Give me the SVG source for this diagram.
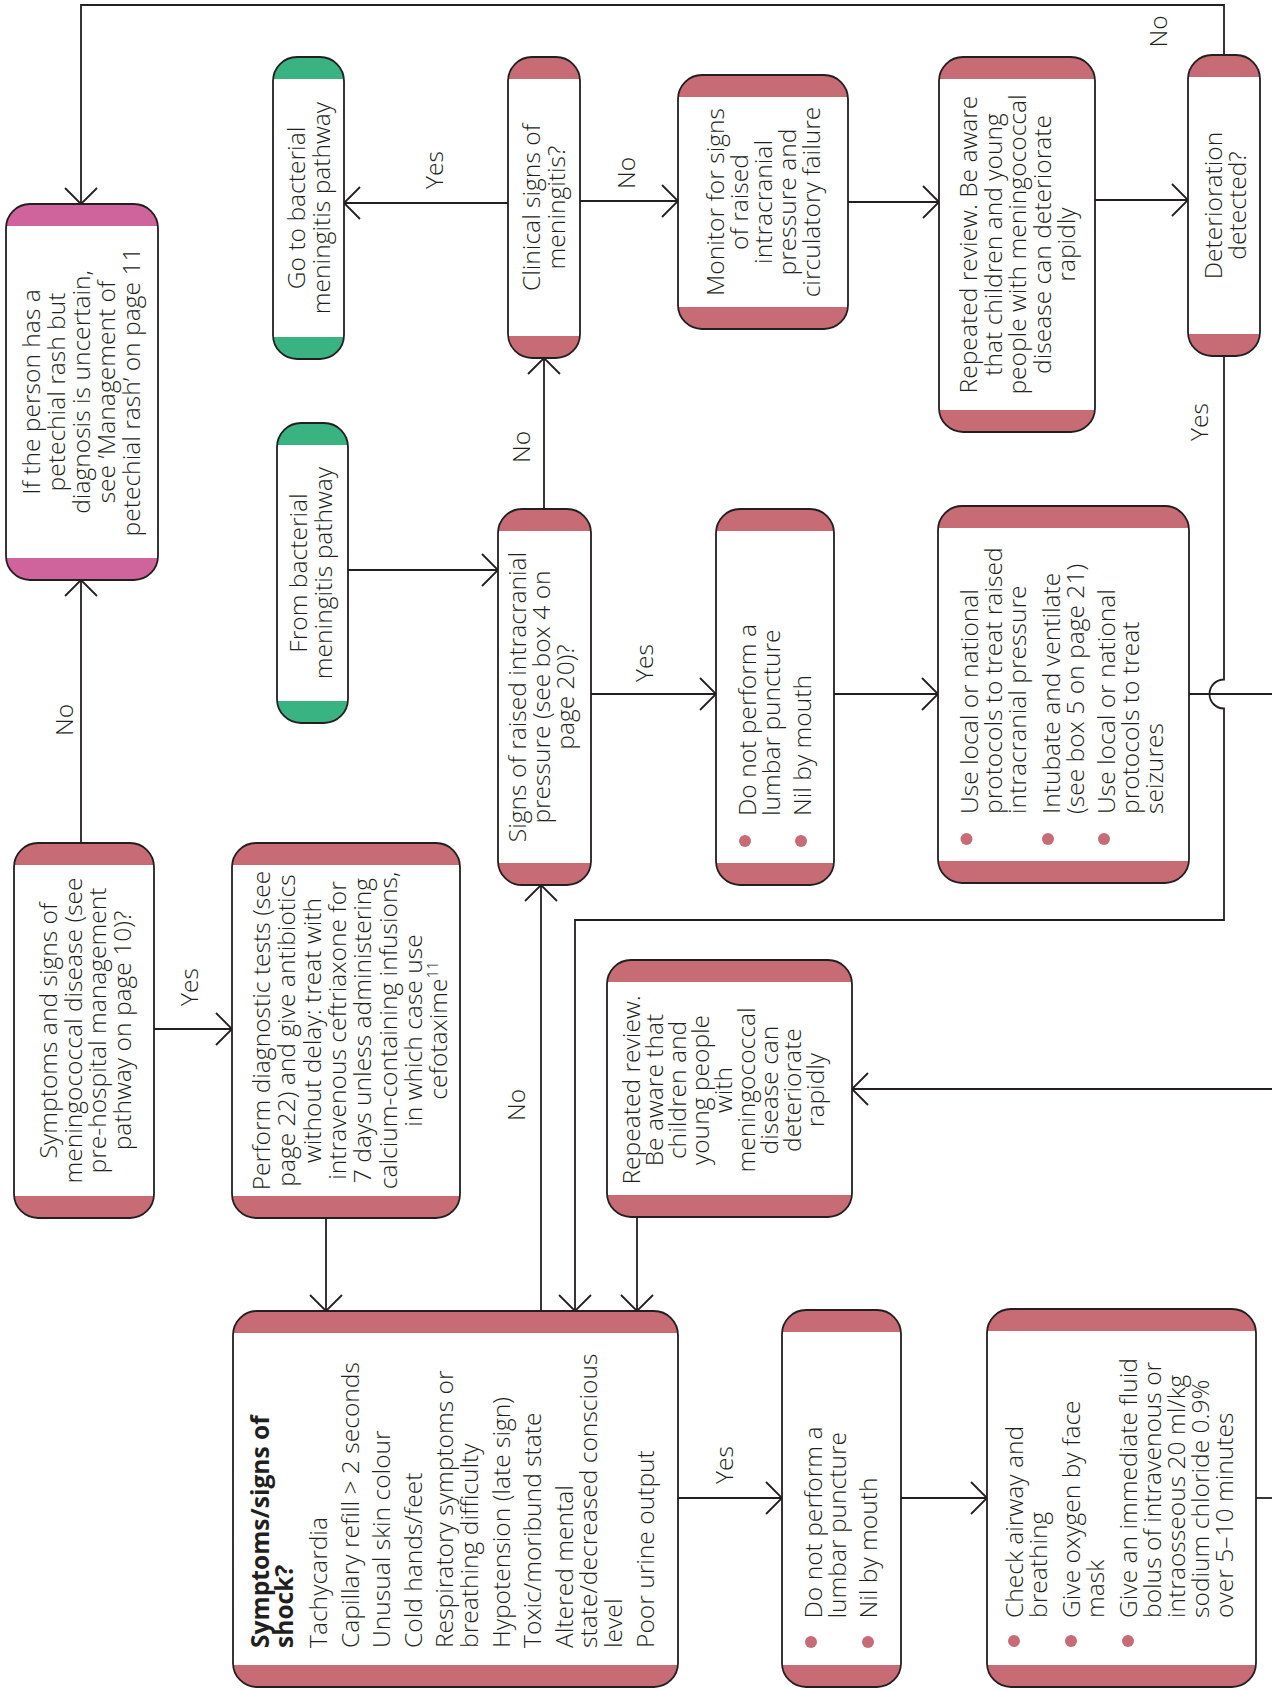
<svg xmlns="http://www.w3.org/2000/svg" width="1272" height="1690" viewBox="0 0 1272 1690">
<style>
.cr{fill:#C76C75}.cp{fill:#CF639B}.cg{fill:#3AB383}
.bd{fill:#fff}
.fr{fill:none;stroke:#231F20;stroke-width:1.8}
.t{font-family:"Open Sans","Noto Sans","Liberation Sans",sans-serif;font-size:24.6px;font-weight:300;fill:#231F20}
.c{text-anchor:middle}
.b{font-weight:700}
.dot{fill:#C76C75}
.w{fill:none;stroke:#231F20;stroke-width:1.8}
.a{marker-end:url(#ah)}
</style>
<defs>
<marker id="ah" markerWidth="20" markerHeight="36" viewBox="0 0 20 36" refX="17" refY="18" orient="auto" markerUnits="userSpaceOnUse">
<path d="M1,2 L17,18 L1,34" fill="none" stroke="#231F20" stroke-width="1.8"/>
</marker>
</defs>
<rect width="1272" height="1690" fill="#fff"/>

<g id="connectors">
<path class="w a" d="M1224,55 V5 H81 V204"/>
<path class="w a" d="M81,843 V580"/>
<path class="w a" d="M154,1029 H232"/>
<path class="w a" d="M326,1218 V1311"/>
<path class="w a" d="M541,1311 V885"/>
<path class="w a" d="M348,570 H498"/>
<path class="w a" d="M544,509 V358"/>
<path class="w a" d="M508,203 H344"/>
<path class="w a" d="M580,201 H678"/>
<path class="w a" d="M848,202 H939"/>
<path class="w a" d="M1095,200 H1188"/>
<path class="w a" d="M1224,356 V679.5 A14.5,14.5 0 0 0 1224,708.5 V920 H575 V1311"/>
<path class="w a" d="M591,694 H716"/>
<path class="w a" d="M834,694 H938"/>
<path class="w" d="M1189,694 H1272"/>
<path class="w a" d="M1272,1089 H852"/>
<path class="w a" d="M637,1217 V1311"/>
<path class="w a" d="M678,1498 H782"/>
<path class="w a" d="M901,1498 H987"/>
<path class="w" d="M1256,1498 H1272"/>
<g class="t c">
<text transform="translate(0,720) rotate(-90)" y="73">No</text>
<text transform="translate(0,987) rotate(-90)" y="198">Yes</text>
<text transform="translate(0,447) rotate(-90)" y="530">No</text>
<text transform="translate(0,170) rotate(-90)" y="443">Yes</text>
<text transform="translate(0,173) rotate(-90)" y="635">No</text>
<text transform="translate(0,31.5) rotate(-90)" y="1167">No</text>
<text transform="translate(0,422) rotate(-90)" y="1208">Yes</text>
<text transform="translate(0,663) rotate(-90)" y="653">Yes</text>
<text transform="translate(0,1105) rotate(-90)" y="524.5">No</text>
<text transform="translate(0,1465) rotate(-90)" y="733">Yes</text>
</g>
</g>

<g id="n-petechial">
<rect class="cp" x="6" y="204" width="152" height="376" rx="24"/>
<rect class="bd" x="6" y="226" width="152" height="332"/>
<rect class="fr" x="6" y="204" width="152" height="376" rx="24"/>
<g class="t c" transform="translate(0,392) rotate(-90)">
<text y="40">If the person has a</text>
<text y="65">petechial rash but</text>
<text y="90">diagnosis is uncertain,</text>
<text y="115">see ‘Management of</text>
<text y="140">petechial rash’ on page 11</text>
</g>
</g>

<g id="n-goto">
<rect class="cg" x="273" y="57" width="71" height="302" rx="24"/>
<rect class="bd" x="273" y="79" width="71" height="258"/>
<rect class="fr" x="273" y="57" width="71" height="302" rx="24"/>
<g class="t c" transform="translate(0,208) rotate(-90)">
<text y="305">Go to bacterial</text>
<text y="330">meningitis pathway</text>
</g>
</g>

<g id="n-clinical">
<rect class="cr" x="508" y="57" width="72" height="301" rx="24"/>
<rect class="bd" x="508" y="79" width="72" height="257"/>
<rect class="fr" x="508" y="57" width="72" height="301" rx="24"/>
<g class="t c" transform="translate(0,207.5) rotate(-90)">
<text y="540">Clinical signs of</text>
<text y="565">meningitis?</text>
</g>
</g>

<g id="n-monitor">
<rect class="cr" x="678" y="75" width="170" height="254" rx="24"/>
<rect class="bd" x="678" y="97" width="170" height="210"/>
<rect class="fr" x="678" y="75" width="170" height="254" rx="24"/>
<g class="t c" transform="translate(0,202) rotate(-90)">
<text y="724">Monitor for signs</text>
<text y="748">of raised</text>
<text y="772">intracranial</text>
<text y="796">pressure and</text>
<text y="820">circulatory failure</text>
</g>
</g>

<g id="n-review1">
<rect class="cr" x="939" y="57" width="156" height="375" rx="24"/>
<rect class="bd" x="939" y="79" width="156" height="331"/>
<rect class="fr" x="939" y="57" width="156" height="375" rx="24"/>
<g class="t c" transform="translate(0,244.5) rotate(-90)">
<text y="977">Repeated review. Be aware</text>
<text y="1001.5">that children and young</text>
<text y="1026">people with meningococcal</text>
<text y="1050.5">disease can deteriorate</text>
<text y="1075">rapidly</text>
</g>
</g>

<g id="n-deterioration">
<rect class="cr" x="1188" y="55" width="72" height="301" rx="24"/>
<rect class="bd" x="1188" y="77" width="72" height="257"/>
<rect class="fr" x="1188" y="55" width="72" height="301" rx="24"/>
<g class="t c" transform="translate(0,205.5) rotate(-90)">
<text y="1222">Deterioration</text>
<text y="1246">detected?</text>
</g>
</g>

<g id="n-from">
<rect class="cg" x="277" y="423" width="71" height="300" rx="24"/>
<rect class="bd" x="277" y="445" width="71" height="256"/>
<rect class="fr" x="277" y="423" width="71" height="300" rx="24"/>
<g class="t c" transform="translate(0,573) rotate(-90)">
<text y="307">From bacterial</text>
<text y="332">meningitis pathway</text>
</g>
</g>

<g id="n-signs">
<rect class="cr" x="498" y="509" width="93" height="376" rx="24"/>
<rect class="bd" x="498" y="531" width="93" height="332"/>
<rect class="fr" x="498" y="509" width="93" height="376" rx="24"/>
<g class="t c" transform="translate(0,697) rotate(-90)">
<text y="526">Signs of raised intracranial</text>
<text y="550">pressure (see box 4 on</text>
<text y="574">page 20)?</text>
</g>
</g>

<g id="n-nolp1">
<rect class="cr" x="716" y="509" width="118" height="376" rx="24"/>
<rect class="bd" x="716" y="531" width="118" height="332"/>
<rect class="fr" x="716" y="509" width="118" height="376" rx="24"/>
<circle class="dot" cx="745" cy="841" r="6"/>
<circle class="dot" cx="801" cy="841" r="6"/>
<g class="t" transform="translate(0,816) rotate(-90)">
<text y="756">Do not perform a</text>
<text y="780">lumbar puncture</text>
<text y="811">Nil by mouth</text>
</g>
</g>

<g id="n-protocols">
<rect class="cr" x="938" y="506" width="251" height="377" rx="24"/>
<rect class="bd" x="938" y="528" width="251" height="333"/>
<rect class="fr" x="938" y="506" width="251" height="377" rx="24"/>
<circle class="dot" cx="966.5" cy="839" r="6"/>
<circle class="dot" cx="1048" cy="839" r="6"/>
<circle class="dot" cx="1104" cy="839" r="6"/>
<g class="t" transform="translate(0,814) rotate(-90)">
<text y="978">Use local or national</text>
<text y="1002">protocols to treat raised</text>
<text y="1026">intracranial pressure</text>
<text y="1060">Intubate and ventilate</text>
<text y="1084">(see box 5 on page 21)</text>
<text y="1115">Use local or national</text>
<text y="1139">protocols to treat</text>
<text y="1163">seizures</text>
</g>
</g>

<g id="n-symptoms">
<rect class="cr" x="14" y="843" width="140" height="375" rx="24"/>
<rect class="bd" x="14" y="865" width="140" height="331"/>
<rect class="fr" x="14" y="843" width="140" height="375" rx="24"/>
<g class="t c" transform="translate(0,1030.5) rotate(-90)">
<text y="57">Symptoms and signs of</text>
<text y="81.5">meningococcal disease (see</text>
<text y="106">pre-hospital management</text>
<text y="130.5">pathway on page 10)?</text>
</g>
</g>

<g id="n-perform">
<rect class="cr" x="232" y="843" width="228" height="375" rx="24"/>
<rect class="bd" x="232" y="865" width="228" height="331"/>
<rect class="fr" x="232" y="843" width="228" height="375" rx="24"/>
<g class="t c" transform="translate(0,1030.5) rotate(-90)">
<text y="270">Perform diagnostic tests (see</text>
<text y="295.3">page 22) and give antibiotics</text>
<text y="320.6">without delay: treat with</text>
<text y="345.9">intravenous ceftriaxone for</text>
<text y="371.2">7 days unless administering</text>
<text y="396.5">calcium-containing infusions,</text>
<text y="421.8">in which case use</text>
<text y="447">cefotaxime<tspan dy="-9" font-size="15">11</tspan></text>
</g>
</g>

<g id="n-review2">
<rect class="cr" x="607" y="960" width="245" height="257" rx="24"/>
<rect class="bd" x="607" y="982" width="245" height="213"/>
<rect class="fr" x="607" y="960" width="245" height="257" rx="24"/>
<g class="t c" transform="translate(0,1090) rotate(-90)">
<text y="640">Repeated review.</text>
<text y="663">Be aware that</text>
<text y="686">children and</text>
<text y="709">young people</text>
<text y="732">with</text>
<text y="755">meningococcal</text>
<text y="778">disease can</text>
<text y="801">deteriorate</text>
<text y="824">rapidly</text>
</g>
</g>

<g id="n-shock">
<rect class="cr" x="233" y="1311" width="445" height="376" rx="24"/>
<rect class="bd" x="233" y="1333" width="445" height="332"/>
<rect class="fr" x="233" y="1311" width="445" height="376" rx="24"/>
<g class="t" transform="translate(0,1648) rotate(-90)">
<text class="b" y="269">Symptoms/signs of</text>
<text class="b" y="293">shock?</text>
<text y="327">Tachycardia</text>
<text y="358.6">Capillary refill &gt; 2 seconds</text>
<text y="390">Unusual skin colour</text>
<text y="421.5">Cold hands/feet</text>
<text y="453">Respiratory symptoms or</text>
<text y="478">breathing difficulty</text>
<text y="509.5">Hypotension (late sign)</text>
<text y="541">Toxic/moribund state</text>
<text y="572.5">Altered mental</text>
<text y="597">state/decreased conscious</text>
<text y="621.5">level</text>
<text y="654">Poor urine output</text>
</g>
</g>

<g id="n-nolp2">
<rect class="cr" x="782" y="1310" width="119" height="377" rx="24"/>
<rect class="bd" x="782" y="1332" width="119" height="333"/>
<rect class="fr" x="782" y="1310" width="119" height="377" rx="24"/>
<circle class="dot" cx="811" cy="1642" r="6"/>
<circle class="dot" cx="868" cy="1642" r="6"/>
<g class="t" transform="translate(0,1618.5) rotate(-90)">
<text y="822">Do not perform a</text>
<text y="846">lumbar puncture</text>
<text y="877">Nil by mouth</text>
</g>
</g>

<g id="n-airway">
<rect class="cr" x="987" y="1309" width="269" height="378" rx="24"/>
<rect class="bd" x="987" y="1331" width="269" height="334"/>
<rect class="fr" x="987" y="1309" width="269" height="378" rx="24"/>
<circle class="dot" cx="1014" cy="1641" r="6"/>
<circle class="dot" cx="1071" cy="1641" r="6"/>
<circle class="dot" cx="1128" cy="1641" r="6"/>
<g class="t" transform="translate(0,1618) rotate(-90)">
<text y="1023">Check airway and</text>
<text y="1047">breathing</text>
<text y="1080">Give oxygen by face</text>
<text y="1104">mask</text>
<text y="1137">Give an immediate fluid</text>
<text y="1161">bolus of intravenous or</text>
<text y="1185">intraosseous 20 ml/kg</text>
<text y="1209">sodium chloride 0.9%</text>
<text y="1233">over 5–10 minutes</text>
</g>
</g>
</svg>
